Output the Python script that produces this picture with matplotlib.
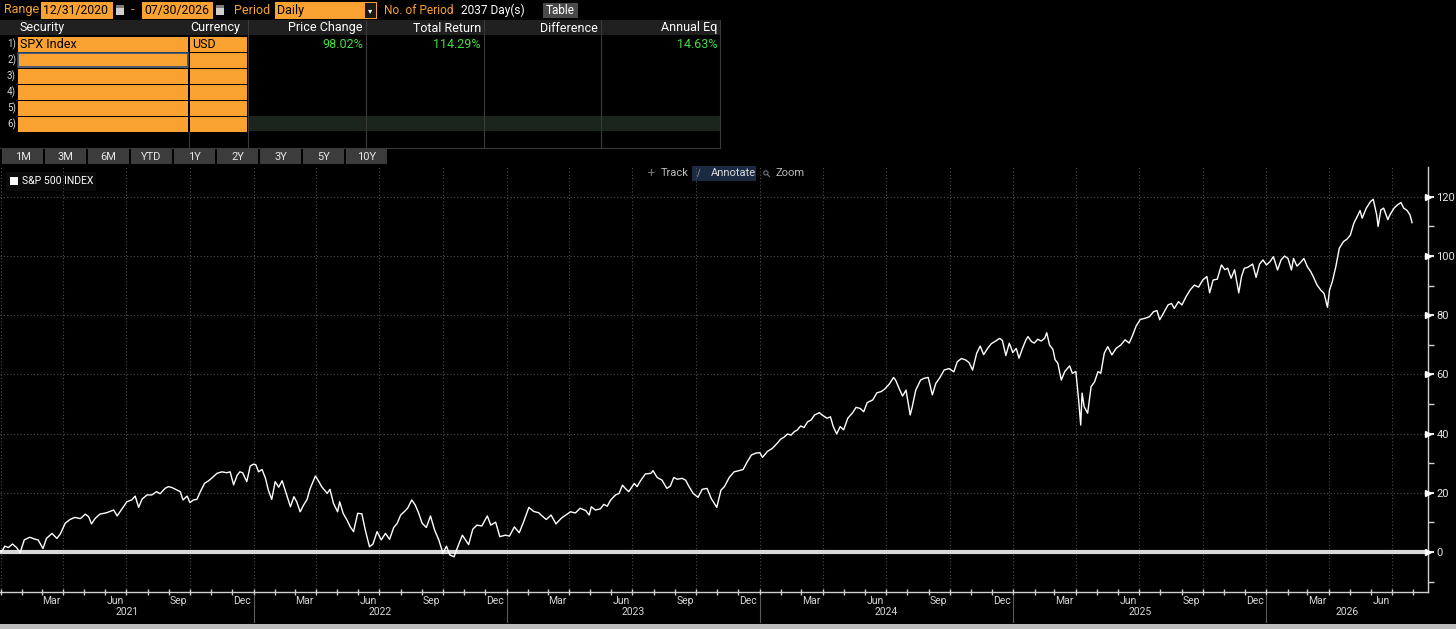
import matplotlib
matplotlib.use("Agg")
import matplotlib.pyplot as plt
import matplotlib.dates as mdates
from matplotlib.patches import Rectangle
import pandas as pd
import numpy as np

plt.rcParams['font.family'] = ['Roboto', 'DejaVu Sans']

# ---------------- data ----------------
dates = [
 "2020-12-31","2021-01-04","2021-01-07","2021-01-12","2021-01-18","2021-01-24","2021-01-29","2021-02-04","2021-02-12","2021-02-20",
 "2021-02-24","2021-03-03","2021-03-08","2021-03-16","2021-03-23","2021-03-28","2021-04-04","2021-04-11","2021-04-18","2021-04-26",
 "2021-05-03","2021-05-08","2021-05-12","2021-05-17","2021-05-24","2021-06-03","2021-06-13","2021-06-18","2021-06-25","2021-07-02",
 "2021-07-09","2021-07-14","2021-07-19","2021-07-24","2021-07-31","2021-08-07","2021-08-14","2021-08-19","2021-08-26","2021-08-31",
 "2021-09-05","2021-09-10","2021-09-17","2021-09-21","2021-09-27","2021-10-01","2021-10-06","2021-10-11","2021-10-16","2021-10-22",
 "2021-10-28","2021-11-04","2021-11-09","2021-11-16","2021-11-23","2021-11-28","2021-12-03","2021-12-08","2021-12-12","2021-12-16",
 "2021-12-22","2021-12-27","2022-01-01","2022-01-04","2022-01-08","2022-01-13","2022-01-18","2022-01-22","2022-01-27","2022-02-01",
 "2022-02-06","2022-02-11","2022-02-16","2022-02-23","2022-02-28","2022-03-04","2022-03-09","2022-03-14","2022-03-19","2022-03-23",
 "2022-03-31","2022-04-05","2022-04-09","2022-04-17","2022-04-21","2022-04-26","2022-05-02","2022-05-05","2022-05-10","2022-05-16",
 "2022-05-20","2022-05-25","2022-05-31","2022-06-06","2022-06-11","2022-06-17","2022-06-22","2022-06-28","2022-07-04","2022-07-10",
 "2022-07-16","2022-07-22","2022-07-27","2022-08-01","2022-08-06","2022-08-11","2022-08-17","2022-08-22","2022-08-27","2022-09-01",
 "2022-09-07","2022-09-13","2022-09-19","2022-09-25","2022-10-01","2022-10-06","2022-10-11","2022-10-17","2022-10-22","2022-10-29",
 "2022-11-02","2022-11-07","2022-11-13","2022-11-19","2022-11-26","2022-12-04","2022-12-09","2022-12-16","2022-12-22","2022-12-30",
 "2023-01-05","2023-01-12","2023-01-19","2023-01-25","2023-02-02","2023-02-09","2023-02-16","2023-02-21","2023-02-27","2023-03-06",
 "2023-03-13","2023-03-21","2023-04-03","2023-04-10","2023-04-17","2023-04-25","2023-04-30","2023-05-03","2023-05-09","2023-05-16",
 "2023-05-21","2023-05-26","2023-05-31","2023-06-07","2023-06-12","2023-06-17","2023-06-21","2023-06-26","2023-07-04","2023-07-08",
 "2023-07-13","2023-07-20","2023-07-28","2023-07-31","2023-08-06","2023-08-13","2023-08-20","2023-08-25","2023-08-30","2023-09-04",
 "2023-09-11","2023-09-16","2023-09-21","2023-09-27","2023-10-04","2023-10-10","2023-10-17","2023-10-23","2023-10-31","2023-11-06",
 "2023-11-11","2023-11-18","2023-11-25","2023-12-02","2023-12-08","2023-12-14","2023-12-20","2023-12-26","2024-01-01","2024-01-05",
 "2024-01-12","2024-01-19","2024-01-26","2024-01-31","2024-02-05","2024-02-10","2024-02-15","2024-02-20","2024-02-24","2024-02-29",
 "2024-03-05","2024-03-10","2024-03-15","2024-03-20","2024-03-27","2024-03-31","2024-04-07","2024-04-12","2024-04-16","2024-04-21",
 "2024-04-26","2024-05-01","2024-05-07","2024-05-14","2024-05-19","2024-05-25","2024-05-30","2024-06-04","2024-06-12","2024-06-18",
 "2024-06-24","2024-06-29","2024-07-06","2024-07-12","2024-07-15","2024-07-20","2024-07-25","2024-07-30","2024-08-05","2024-08-08",
 "2024-08-13","2024-08-20","2024-08-25","2024-08-31","2024-09-06","2024-09-11","2024-09-17","2024-09-23","2024-09-30","2024-10-07",
 "2024-10-12","2024-10-18","2024-10-24","2024-10-29","2024-11-03","2024-11-09","2024-11-14","2024-11-19","2024-11-25","2024-11-30",
 "2024-12-07","2024-12-12","2024-12-16","2024-12-21","2024-12-26","2024-12-31","2025-01-05","2025-01-09","2025-01-14","2025-01-19",
 "2025-01-22","2025-01-27","2025-01-31","2025-02-05","2025-02-10","2025-02-15","2025-02-18","2025-02-22","2025-02-27","2025-03-02",
 "2025-03-06","2025-03-11","2025-03-16","2025-03-23","2025-03-27","2025-04-01","2025-04-05","2025-04-08","2025-04-10","2025-04-13",
 "2025-04-18","2025-04-23","2025-04-28","2025-05-03","2025-05-07","2025-05-12","2025-05-17","2025-05-23","2025-05-29","2025-06-05",
 "2025-06-11","2025-06-17","2025-06-22","2025-06-27","2025-07-03","2025-07-10","2025-07-16","2025-07-22","2025-07-27","2025-07-31",
 "2025-08-04","2025-08-12","2025-08-17","2025-08-21","2025-08-27","2025-09-01","2025-09-07","2025-09-13","2025-09-19","2025-09-25",
 "2025-10-01","2025-10-07","2025-10-11","2025-10-16","2025-10-22","2025-10-28","2025-11-02","2025-11-06","2025-11-11","2025-11-16",
 "2025-11-22","2025-11-26","2025-11-30","2025-12-05","2025-12-12","2025-12-17","2025-12-22","2025-12-27","2026-01-01","2026-01-06",
 "2026-01-11","2026-01-17","2026-01-22","2026-01-27","2026-02-01","2026-02-06","2026-02-09","2026-02-14","2026-02-19","2026-02-24",
 "2026-03-01","2026-03-06","2026-03-10","2026-03-15","2026-03-20","2026-03-25","2026-03-28","2026-03-30","2026-04-02","2026-04-06",
 "2026-04-11","2026-04-16","2026-04-22","2026-04-27","2026-05-02","2026-05-07","2026-05-13","2026-05-16","2026-05-19","2026-05-25",
 "2026-05-31","2026-06-04","2026-06-09","2026-06-11","2026-06-15","2026-06-19","2026-06-25","2026-06-28","2026-07-04","2026-07-09",
 "2026-07-14","2026-07-18","2026-07-23","2026-07-27","2026-07-30",
]
values = [
 0.0,0.7,2.0,1.5,2.7,1.5,-0.2,4.1,5.0,4.3,
 4.1,1.2,4.6,6.3,4.6,6.1,9.7,11.0,11.7,11.3,
 12.8,11.9,9.5,11.3,12.8,13.3,14.2,12.2,14.6,17.0,
 17.6,18.9,15.1,17.9,19.3,19.3,20.4,19.7,21.5,22.1,
 21.8,21.2,20.4,17.6,18.9,16.7,17.6,17.8,20.4,23.2,
 24.1,25.5,26.6,27.1,26.8,27.1,22.7,25.9,27.1,26.8,
 23.8,29.1,29.7,29.5,27.1,27.9,24.9,21.0,17.8,23.8,
 21.9,24.1,20.4,15.3,18.7,17.0,13.6,15.9,17.8,21.2,
 25.7,23.8,22.1,19.8,21.2,16.5,13.6,17.0,13.1,10.6,
 8.6,6.9,13.1,12.9,7.4,1.8,2.7,6.9,4.1,6.3,
 4.3,8.3,9.7,12.5,13.6,14.8,17.6,15.9,13.1,9.7,
 8.3,12.2,7.4,4.1,-0.5,2.0,-1.0,-1.6,1.6,5.7,
 4.3,2.5,7.7,9.1,8.8,12.2,9.1,10.1,5.2,5.7,
 5.4,8.5,6.5,10.0,15.1,13.7,13.3,12.2,11.0,12.5,
 9.5,11.5,13.6,13.2,14.8,14.0,12.5,15.3,14.2,14.6,
 16.1,15.5,17.6,19.3,19.8,22.6,21.5,20.4,23.2,22.1,
 24.1,26.4,26.6,27.5,25.2,24.3,21.5,22.3,25.2,24.6,
 24.9,24.3,22.1,19.8,18.5,21.2,21.5,18.1,15.1,20.9,
 22.1,25.2,27.1,27.5,27.9,30.5,32.8,33.4,33.6,32.0,
 34.0,35.0,36.7,38.1,38.8,39.9,39.5,40.7,41.2,42.6,
 42.1,44.0,44.6,46.3,47.1,46.3,45.2,45.7,42.4,39.9,
 42.4,41.3,45.2,47.1,48.9,48.5,47.4,50.5,51.4,53.8,
 54.2,55.0,56.8,59.0,58.1,55.3,52.7,54.7,46.3,49.1,
 54.7,58.1,58.7,59.0,53.1,57.0,59.0,61.5,62.0,60.9,
 64.3,65.4,64.9,64.0,61.5,67.2,69.6,66.7,68.9,70.4,
 71.4,72.2,71.5,66.4,70.6,67.4,68.8,65.5,68.8,71.7,
 72.8,71.1,70.6,71.9,71.3,72.2,74.1,70.0,68.4,65.0,
 63.8,58.1,61.0,62.9,60.4,61.0,51.4,42.9,53.7,49.1,
 46.9,55.9,57.5,61.0,60.4,67.2,69.4,66.6,68.8,70.0,
 71.7,70.6,73.3,76.4,78.6,79.0,79.5,81.2,81.6,78.5,
 80.1,83.5,84.0,82.3,84.6,83.5,86.3,88.6,90.2,89.5,
 91.9,93.1,87.6,91.9,92.2,97.0,95.4,95.9,92.5,95.4,
 87.6,93.1,95.9,96.2,97.3,92.8,97.3,98.7,97.0,98.1,
 99.8,95.3,98.7,100.0,99.2,95.3,99.2,96.6,97.8,99.2,
 96.4,94.7,92.8,90.2,88.6,87.4,84.6,82.7,88.6,91.4,
 96.4,102.6,104.9,105.7,107.1,111.1,113.9,115.4,112.8,116.2,
 118.4,119.2,113.9,110.0,115.6,116.2,112.3,113.9,116.2,117.3,
 118.1,116.2,115.4,113.9,111.3,
]
series_name = "S&P 500 INDEX"
y_ticks = [0, 20, 40, 60, 80, 100, 120]
years = [2021, 2022, 2023, 2024, 2025, 2026]
range_start = "12/31/2020"
range_end = "07/30/2026"
period = "Daily"
n_period = "2037 Day(s)"
table_cols = ["Security", "Currency", "Price Change", "Total Return", "Difference", "Annual Eq"]
security = "SPX Index"
currency = "USD"
price_change = "98.02%"
total_return = "114.29%"
annual_eq = "14.63%"
buttons = ["1M", "3M", "6M", "YTD", "1Y", "2Y", "3Y", "5Y", "10Y"]

# ---------------- figure ----------------
W, H = 1456, 629
fig = plt.figure(figsize=(W / 100, H / 100), dpi=100, facecolor="black")
ui = fig.add_axes([0, 0, 1, 1], zorder=0)
ui.set_xlim(0, W)
ui.set_ylim(H, 0)
ui.axis("off")

ORANGE = "#f9a232"
GREEN = "#3fe03f"


def rect(x0, y0, x1, y1, fc, ec="none", lw=0):
    ui.add_patch(Rectangle((x0, y0), x1 - x0, y1 - y0, facecolor=fc, edgecolor=ec, linewidth=lw))


def txt(x, y, s, color="white", size=9, ha="left", **kw):
    ui.text(x, y, s, color=color, fontsize=size, ha=ha, va="center", **kw)


# header row
txt(4, 10, "Range", ORANGE, 9)
rect(41, 2, 113, 19, ORANGE)
txt(43, 10.5, range_start, "black", 8.8)
rect(116, 5, 124, 15, "#cfcfcf")
rect(116, 5, 124, 7.5, "#7a7a7a")
txt(131, 10, "-", ORANGE, 9)
rect(142, 2, 213, 19, ORANGE)
txt(144, 10.5, range_end, "black", 8.8)
rect(216, 5, 224, 15, "#cfcfcf")
rect(216, 5, 224, 7.5, "#7a7a7a")
txt(234, 10, "Period", ORANGE, 9)
rect(275, 2, 377, 19, ORANGE)
txt(277, 10.5, period, "black", 9)
rect(365, 3, 376, 18, "#1a1a1a")
txt(370.5, 10.5, "\u25be", "white", 6, ha="center", family="DejaVu Sans")
txt(384, 10, "No. of Period", ORANGE, 8.6)
txt(461, 10, n_period, "white", 8.6)
rect(543, 3, 578, 18, "#4a4a4a")
txt(560.5, 10.5, "Table", "white", 8.5, ha="center")

# table header
rect(0, 20, 720, 35, "#202020")
txt(20, 28, table_cols[0], "white", 9)
txt(190, 28, table_cols[1], "white", 9)
col_right = [363, 481, 598, 717]
for cx, name in zip(col_right, table_cols[2:]):
    txt(cx, 28, name, "white", 9, ha="right")

# rows
row_top = 36
row_h = 16
for i in range(6):
    y0 = row_top + i * row_h
    rect(18, y0 + 0.5, 188, y0 + row_h - 0.5, ORANGE)
    rect(190, y0 + 0.5, 247, y0 + row_h - 0.5, ORANGE)
    txt(7, y0 + row_h / 2, f"{i + 1})", "#d8d8d8", 7)
rect(18, 52.5, 188, 66.5, ORANGE, ec="#2d4f7a", lw=1.2)
rect(248, row_top + 5 * row_h, 720, row_top + 6 * row_h - 1, "#1c241e")
txt(20, 44, security, "black", 9)
txt(192, 44, currency, "black", 9)
txt(col_right[0], 44, price_change, GREEN, 9, ha="right")
txt(col_right[1], 44, total_return, GREEN, 9, ha="right")
txt(col_right[3], 44, annual_eq, GREEN, 9, ha="right")

# table separators
for sx in [248, 366, 484, 601, 720]:
    ui.plot([sx, sx], [20, 148], color="#3a3a3a", lw=0.8)
ui.plot([188.5, 188.5], [132, 148], color="#3a3a3a", lw=0.8)
ui.plot([0, 720], [148, 148], color="#3a3a3a", lw=0.8)

# period buttons
bx = 2
for b in buttons:
    rect(bx, 149, bx + 41, 163.5, "#3c3c3c")
    txt(bx + 20.5, 156.5, b, "#e6e6e6", 8, ha="center")
    bx += 43

# legend
rect(6, 172, 96, 191, "#0b0b0b")
rect(10, 177, 18, 185, "white")
txt(22, 181.5, series_name, "white", 7.5)

# track / annotate / zoom
rect(692, 166, 756, 181, "#1b2a42")
txt(647, 173.5, "+", "#8a8a8a", 7.5, family="DejaVu Sans")
txt(661, 173.5, "Track", "#bdbdbd", 8)
txt(697, 173.5, "\u2215", "#8a8a8a", 7.5, family="DejaVu Sans")
txt(711, 173.5, "Annotate", "#dcdcdc", 8)
txt(761, 173.5, "\u26b2", "#8a8a8a", 7, family="DejaVu Sans", rotation=45)
txt(776, 173.5, "Zoom", "#bdbdbd", 8)

# bottom border
rect(0, 624, W, H, "#bdbdbd")

# ---------------- chart ----------------
ax_l, ax_r, ax_t, ax_b = 0, 1428, 167, 592
ax = fig.add_axes([ax_l / W, (H - ax_b) / H, (ax_r - ax_l) / W, (ax_b - ax_t) / H], zorder=2)
ax.set_facecolor("none")

x = pd.to_datetime(dates)
ax.plot(x, values, color="white", lw=1.0, zorder=4)
ax.axhline(0, color="#d9d9d9", lw=3, zorder=3)

ax.set_xlim(pd.Timestamp("2020-12-31"), pd.Timestamp("2026-08-22"))
ax.set_ylim(-13.5, 130.1)

# grid
for yt in y_ticks[1:]:
    ax.axhline(yt, color="#4d4d4d", lw=0.8, ls=(0, (1, 2)), zorder=1)
q_starts = pd.date_range("2021-01-01", "2026-08-01", freq="QS")
for q in q_starts:
    ax.axvline(q, color="#4d4d4d", lw=0.8, ls=(0, (1, 2)), zorder=1)

for s in ["left", "top"]:
    ax.spines[s].set_visible(False)
for s in ["right", "bottom"]:
    ax.spines[s].set_color("#cfcfcf")
    ax.spines[s].set_linewidth(1.0)

# y axis on right
ax.yaxis.tick_right()
ax.set_yticks(y_ticks)
ax.set_yticklabels([str(v) for v in y_ticks])
ax.set_yticks([v + 10 for v in [-20] + y_ticks[:-1]], minor=True)
ax.tick_params(axis="y", which="major", colors="#e6e6e6", labelsize=8, length=4, width=1.5, pad=2,
               direction="out")
ax.tick_params(axis="y", which="minor", colors="#cfcfcf", length=4, width=1, direction="out")
ax.plot([1.0] * len(y_ticks), y_ticks, marker=">", ls="none", ms=4.5, color="white",
        transform=ax.get_yaxis_transform(), clip_on=False, zorder=5)

# x axis
ax.xaxis.set_major_locator(mdates.MonthLocator())
ax.xaxis.set_major_formatter(plt.NullFormatter())
ax.xaxis.set_minor_locator(mdates.MonthLocator(bymonth=[3, 6, 9, 12], bymonthday=15))
ax.xaxis.set_minor_formatter(mdates.DateFormatter("%b"))
ax.tick_params(axis="x", which="major", colors="#cfcfcf", length=4, width=1, direction="inout")
ax.tick_params(axis="x", which="minor", colors="#d8d8d8", length=0, labelsize=7.5, pad=3)

x0, x1 = ax.get_xlim()
for yr in years:
    a = max(mdates.date2num(pd.Timestamp(f"{yr}-01-01")), x0)
    b = min(mdates.date2num(pd.Timestamp(f"{yr + 1}-01-01")), x1)
    ax.text((a + b) / 2, -0.047, str(yr), transform=ax.get_xaxis_transform(), color="#d8d8d8",
            fontsize=7.5, ha="center", va="center", clip_on=False)
    if yr > years[0]:
        ax.plot([pd.Timestamp(f"{yr}-01-01")] * 2, [-0.008, -0.07], color="#5a5a5a", lw=0.8,
                transform=ax.get_xaxis_transform(), clip_on=False)

fig.savefig("out.png", dpi=100, facecolor="black")
